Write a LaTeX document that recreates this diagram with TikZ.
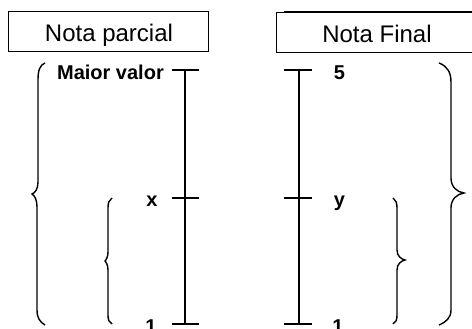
\documentclass[tikz,border=0pt]{standalone}
\usepackage{fontspec}
\setmainfont{Liberation Sans}
\begin{document}
\begin{tikzpicture}[x=1pt,y=-1pt,
  axisline/.style={line width=2pt},
  boxline/.style={line width=1pt},
  bracepath/.style={line width=1.4pt},
  boxlabel/.style={font=\fontsize{24}{26}\selectfont, anchor=base, inner sep=0pt},
  ticklabel/.style={font=\fontsize{20}{22}\selectfont\bfseries, anchor=base, inner sep=0pt}]
\useasboundingbox (0,0) rectangle (472,329);
\begin{scope}
\clip (0,0) rectangle (472,329);
% boxes
\draw[boxline] (8,12) rectangle (208,52);
\node[boxlabel] (np) at (109,41.7) {Nota parcial};
\draw[boxline] (276,13) rectangle (480,53);
\draw[line width=1.5pt] (284,12) -- (480,12);
\node[boxlabel] (nf) at (377,42.5) {Nota Final};
% left axis
\coordinate (lt) at (185,70);
\coordinate (lm) at (185,198);
\coordinate (lb) at (185,324);
\draw[axisline] (lt) -- (lb);
\draw[axisline] (172,70) -- (199,70);
\draw[axisline] (172,198) -- (199,198);
\draw[axisline] (172,324) -- (199,324);
% right axis
\coordinate (rt) at (299,70);
\coordinate (rb) at (299,324);
\draw[axisline] (rt) -- (rb);
\draw[axisline] (284,70) -- (312,70);
\draw[axisline] (284,198) -- (312,198);
\draw[axisline] (284,324) -- (312,324);
% labels
\node[ticklabel, anchor=base east] (maior) at (164,80) {Maior valor};
\node[ticklabel] (lx) at (152,206) {x};
\node[ticklabel] (l1) at (151,333.5) {1};
\node[ticklabel] (r5) at (339.5,80) {5};
\node[ticklabel] (ry) at (339.5,206) {y};
\node[ticklabel] (r1) at (338,333.5) {1};
% braces
\draw[bracepath] (45,63) .. controls (40,65) and (38,70) .. (38,80) -- (38,182)
  .. controls (38,189) and (35,193) .. (32,194)
  .. controls (35,196) and (37,200) .. (37,207) -- (37,310)
  .. controls (37,318) and (40,322) .. (45,325);
\draw[bracepath] (112,198) .. controls (109,200) and (108,203) .. (108,208) -- (108,252)
  .. controls (108,257) and (106,260) .. (105,261)
  .. controls (106,262) and (108,265) .. (108,270) -- (108,315)
  .. controls (108,320) and (109,322) .. (112,324);
\draw[bracepath] (393,198) .. controls (396,200) and (397,203) .. (397,208) -- (397,250)
  .. controls (397,256) and (401,259) .. (405,260)
  .. controls (401,261) and (397,264) .. (397,270) -- (397,315)
  .. controls (397,320) and (396,322) .. (393,324);
\draw[bracepath] (439,63) .. controls (447,66) and (451,72) .. (451,82) -- (451,178)
  .. controls (451,187) and (457,192) .. (464,193)
  .. controls (457,194) and (451,199) .. (451,208) -- (451,310)
  .. controls (451,318) and (446,322) .. (439,325);
\end{scope}
\end{tikzpicture}
\end{document}
